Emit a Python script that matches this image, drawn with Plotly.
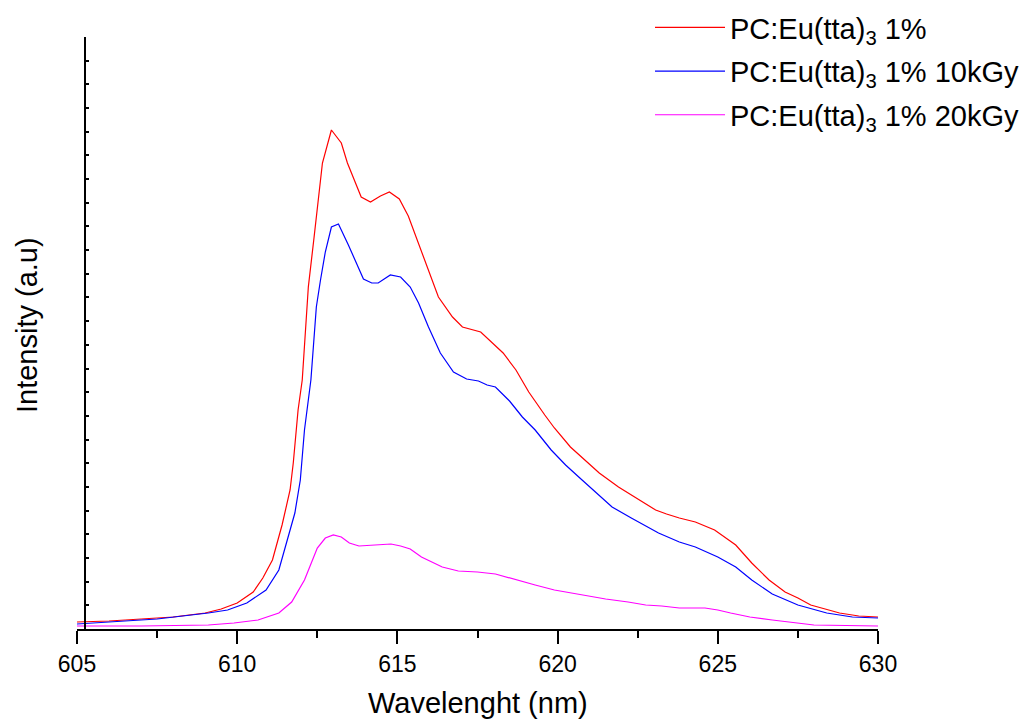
import plotly.graph_objects as go

# Wavelength (nm) and intensity (a.u.)
red_x = [605, 606, 607, 608, 609, 609.5, 610, 610.5, 610.8, 611.1, 611.4, 611.65, 611.75, 611.9,
         612.03, 612.22, 612.4, 612.53, 612.66, 612.94, 613.25, 613.44, 613.56, 613.87, 614.16,
         614.47, 614.75, 615.06, 615.34, 615.66, 615.97, 616.28, 616.72, 617.03, 617.6, 617.8,
         618.06, 618.3, 618.7, 619.1, 619.6, 619.9, 620.4, 620.75, 621.3, 621.9, 622.4, 623.06,
         623.4, 623.8, 624.3, 624.9, 625.56, 626.06, 626.6, 627.1, 627.5, 627.9, 628.8, 629.4, 630]
red_y = [5, 6, 8, 10, 14, 18, 24, 35, 49, 67, 102, 137, 164, 217,
         247, 340, 390, 430, 464, 497, 484, 464, 454, 430, 425,
         431, 435, 428, 411, 384, 357, 330, 310, 300, 295, 289,
         282, 274, 257, 235, 212, 199, 180, 170, 154, 140, 130, 117,
         113, 109, 105, 97, 82, 64, 47, 35, 29, 22, 14, 11, 10]

blue_x = [605, 606, 607.5, 609.1, 609.7, 610.3, 610.9, 611.3, 611.6, 611.8, 611.97, 612.1, 612.3,
          612.47, 612.6, 612.75, 612.94, 613.16, 613.47, 613.78, 613.94, 614.2, 614.4, 614.78,
          615.1, 615.4, 615.66, 615.97, 616.34, 616.75, 617.16, 617.53, 617.8, 618.06, 618.5,
          618.9, 619.3, 619.8, 620.25, 620.66, 621.1, 621.7, 622.3, 622.84, 623.15, 623.8, 624.3,
          625.0, 625.56, 626.06, 626.7, 627.5, 628.4, 629.2, 630]
blue_y = [3, 5, 8, 14, 17, 24, 37, 57, 90, 114, 147, 197, 247,
          320, 347, 375, 400, 403, 382, 359, 348, 344, 344, 352,
          350, 340, 324, 300, 274, 255, 248, 246, 242, 240, 226,
          210, 197, 177, 162, 150, 137, 120, 109, 99, 94, 85, 80,
          70, 60, 47, 33, 22, 14, 10, 9]

mag_x = [605, 607, 609.1, 609.9, 610.65, 611.3, 611.7, 612.1, 612.5, 612.75, 613.0, 613.25, 613.5,
         613.8, 614.3, 614.8, 615.1, 615.4, 615.75, 616.06, 616.4, 616.9, 617.5, 618.06, 618.8,
         619.3, 619.9, 620.25, 620.9, 621.5, 622.2, 622.75, 623.25, 623.8, 624.6, 625.0, 625.4,
         626.0, 626.7, 628.0, 630]
mag_y = [1, 1, 2, 4, 7, 14, 25, 47, 79, 89, 92, 90, 84,
         81, 82, 83, 81, 78, 70, 65, 60, 56, 55, 53, 46,
         42, 37, 35, 31, 28, 25, 22, 21, 19, 19, 17, 14,
         10, 7, 2, 1]

names = ["PC:Eu(tta)<sub>3</sub> 1%",
         "PC:Eu(tta)<sub>3</sub> 1% 10kGy",
         "PC:Eu(tta)<sub>3</sub> 1% 20kGy"]
colors = ["#FF0000", "#0000FF", "#FF00FF"]

fig = go.Figure()
for i, (xs, ys, n, c) in enumerate([(red_x, red_y, names[0], colors[0]),
                                    (blue_x, blue_y, names[1], colors[1]),
                                    (mag_x, mag_y, names[2], colors[2])]):
    fig.add_trace(go.Scatter(x=xs, y=ys, mode="lines", name=n, legendgroup=f"g{i}",
                             line=dict(color=c, width=1.2)))

font_family = "Liberation Sans, Arial, sans-serif"

fig.update_layout(
    width=1022, height=719,
    margin=dict(l=77, r=144, t=37, b=90, autoexpand=False),
    plot_bgcolor="white", paper_bgcolor="white",
    font=dict(family=font_family, color="black"),
    showlegend=True,
    legend=dict(xref="container", yref="container", x=650 / 1022, y=1.0 - 2 / 719,
                xanchor="left", yanchor="top",
                font=dict(size=29, family=font_family),
                bgcolor="rgba(0,0,0,0)", itemwidth=70, tracegroupgap=3),
    xaxis=dict(range=[605, 630], showgrid=False, zeroline=False,
               showline=True, linecolor="black", linewidth=2,
               ticks="outside", ticklen=13, tickwidth=2, tickcolor="black",
               tick0=605, dtick=5, tickfont=dict(size=23),
               minor=dict(dtick=2.5, ticks="outside", ticklen=7, tickwidth=2, tickcolor="black")),
    yaxis=dict(range=[-2, 590], showgrid=False, zeroline=False,
               showline=True, linecolor="black", linewidth=2,
               anchor="free", position=0.0106,
               ticks="inside", ticklen=3, tickwidth=2, tickcolor="black",
               tick0=-2, dtick=23.68, showticklabels=False),
    annotations=[
        dict(text="Wavelenght (nm)", xref="paper", yref="paper", x=0.5, y=-0.125,
             xanchor="center", yanchor="middle", showarrow=False, font=dict(size=29)),
        dict(text="Intensity (a.u)", xref="paper", yref="paper", x=-0.0624, y=0.5135,
             xanchor="center", yanchor="middle", showarrow=False, textangle=-90,
             font=dict(size=29)),
    ],
)

fig.write_html("out.html")
